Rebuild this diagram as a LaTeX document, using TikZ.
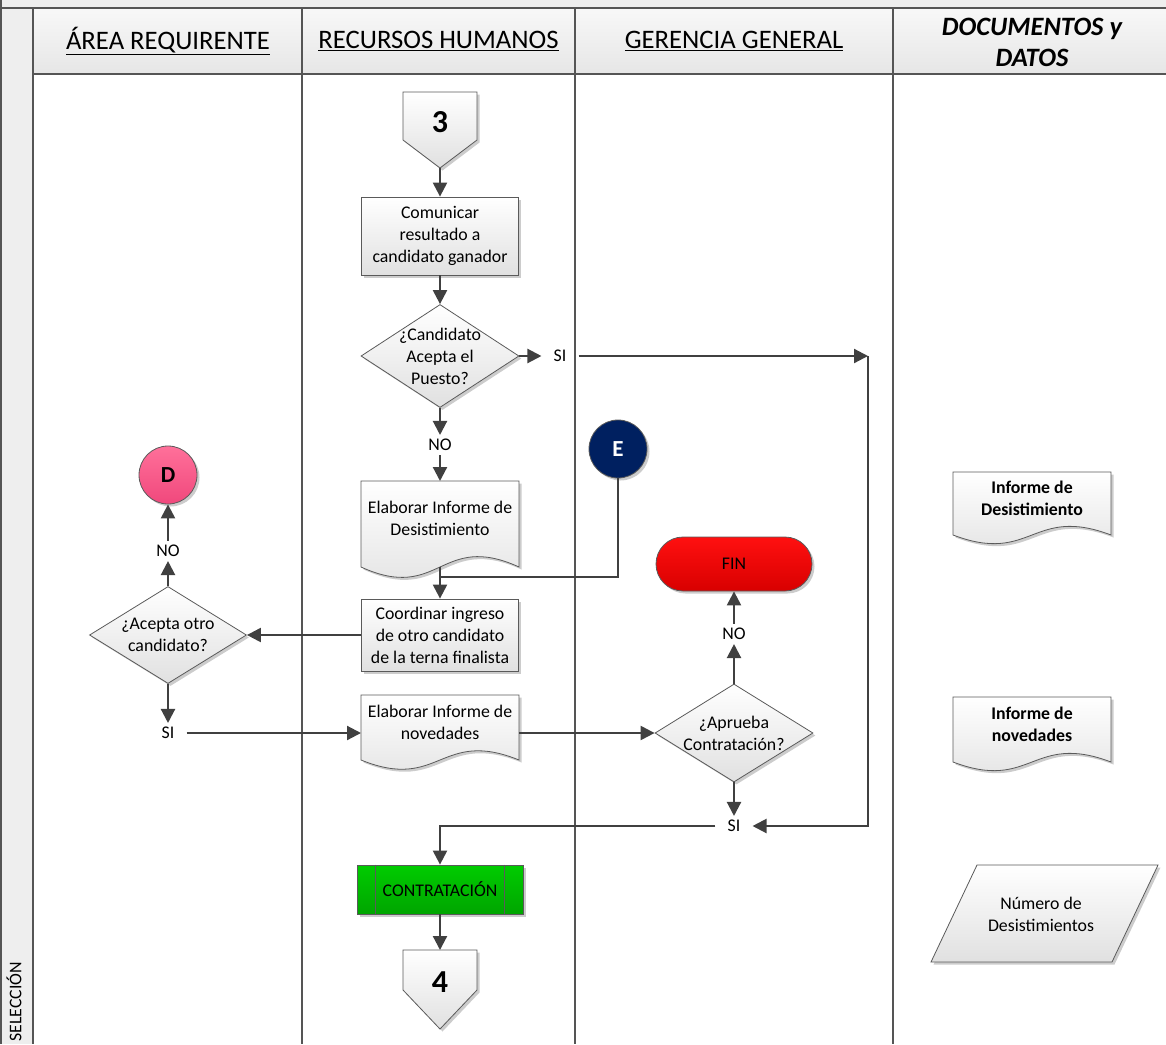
\documentclass[tikz,border=0pt]{standalone}
\usepackage{fontspec}
\setmainfont{Carlito}
\usetikzlibrary{arrows.meta,shapes.geometric,shadows,calc}

\definecolor{lnc}{HTML}{404040}
\definecolor{bdc}{HTML}{5A5A5A}
\definecolor{lanec}{HTML}{555555}
\definecolor{hdr}{HTML}{EEEEEE}
\definecolor{hdrtop}{HTML}{F8F8F8}
\definecolor{hdrbot}{HTML}{E6E6E6}
\definecolor{navy}{HTML}{002060}
\definecolor{pinktop}{HTML}{FF709A}
\definecolor{pinkbot}{HTML}{F0487C}
\definecolor{redtop}{HTML}{FF1010}
\definecolor{redbot}{HTML}{D80000}
\definecolor{grntop}{HTML}{00CC00}
\definecolor{grnbot}{HTML}{00A500}

\newcommand\bodyf{\fontsize{17.8}{22}\selectfont}
\newcommand\hdrf{\fontsize{26.7}{31}\selectfont}
\newcommand\numf{\fontsize{32}{36}\selectfont\bfseries}
\newcommand\letf{\fontsize{23}{27}\selectfont\bfseries}

% document symbol with a wavy bottom: x1, x2, top, side bottom, wave depth
\newcommand\docshape[5]{%
  \path[shp] (#1,#3) -- (#2,#3) -- (#2,#4)
    .. controls ({(#1+#2)/2},{#4-#5}) and ({(#1+#2)/2},{#4+#5}) .. (#1,#4) -- cycle;}

% off-page connector: centre x, top, shoulder, tip
\newcommand\offpage[4]{%
  \path[shp] ({#1-37},#2) -- ({#1+37},#2) -- ({#1+37},#3) -- (#1,#4) -- ({#1-37},#3) -- cycle;}

\begin{document}
\begin{tikzpicture}[x=1pt,y=-1pt,
  lane/.style={draw=lanec,line width=1.4pt},
  shp/.style={draw=bdc,line width=0.8pt,top color=white,bottom color=black!12,
    drop shadow={shadow xshift=2.5pt,shadow yshift=-2.5pt,opacity=.2,fill=black}},
  proc/.style={shp,rectangle,inner sep=0pt,align=center,font=\bodyf,minimum width=157pt},
  dec/.style={shp,diamond,inner sep=0pt},
  txt/.style={inner sep=0pt,align=center,font=\bodyf},
  lbl/.style={inner xsep=12pt,inner ysep=4pt,font=\bodyf},
  flow/.style={draw=lnc,line width=2.2pt,-{Triangle[length=14pt,width=14pt]}},
  plain/.style={draw=lnc,line width=2.2pt},
  hdrtxt/.style={font=\hdrf,inner sep=0pt,align=center}]

\useasboundingbox (0,0) rectangle (1166,1044);

% ---------- swimlane frame ----------
\fill[hdr] (0,0) rectangle (1166,8);
\fill[hdr] (0,8) rectangle (33,1044);
\shade[top color=hdrtop,bottom color=hdrbot] (33,8) rectangle (1166,74);
\draw[lane] (1,0) -- (1,1044);
\draw[lane] (0,8) -- (1166,8);
\draw[lane] (33,8) -- (33,1044);
\draw[lane] (33,74) -- (1166,74);
\draw[lane] (302,8) -- (302,1044);
\draw[lane] (575,8) -- (575,1044);
\draw[lane] (893,8) -- (893,1044);

\node[hdrtxt] (h1) at (168,41) {\underline{ÁREA REQUIRENTE}};
\node[hdrtxt] (h2) at (438.5,41) {\underline{RECURSOS HUMANOS}};
\node[hdrtxt] (h3) at (734,41) {\underline{GERENCIA GENERAL}};
\node[hdrtxt,font=\fontsize{26.5}{31}\selectfont\bfseries\itshape] (h4) at (1032,42) {DOCUMENTOS y\\DATOS};
\node[rotate=90,anchor=east,inner sep=0pt,font=\bodyf] (sel) at (14,962) {SELECCIÓN};

% ---------- shapes ----------
\offpage{440}{92}{140}{168}
\node[font=\numf,inner sep=0pt] (c3) at (440,122) {3};
\coordinate (c3tip) at (440,168);

\node[proc,minimum height=78pt] (com) at (440,236) {Comunicar\\resultado a\\candidato ganador};

\node[dec,minimum width=158pt,minimum height=103pt] (d1) at (440,356) {};
\node[txt] (d1t) at (440,356) {¿Candidato\\Acepta el\\Puesto?};

\docshape{361}{519}{481}{567}{36}
\node[txt] (ddoc) at (440,518) {Elaborar Informe de\\Desistimiento};
\coordinate (ddocb) at (440,567);
\coordinate (ddocn) at (440,481);

\node[circle,draw=bdc,line width=0.8pt,fill=navy,minimum size=58pt,inner sep=0pt,
  font=\letf,text=white,drop shadow={shadow xshift=2.5pt,shadow yshift=-2.5pt,opacity=.2,fill=black}]
  (cE) at (618,449) {E};
\coordinate (j1) at (440,577);

\node[proc,minimum height=72pt] (coord) at (440,635) {Coordinar ingreso\\de otro candidato\\de la terna finalista};

\node[dec,minimum width=157pt,minimum height=97pt] (d2) at (168,635) {};
\node[txt] (d2t) at (168,635) {¿Acepta otro\\candidato?};

\node[circle,draw=bdc,line width=0.8pt,top color=pinktop,bottom color=pinkbot,minimum size=58pt,inner sep=0pt,
  font=\letf,drop shadow={shadow xshift=2.5pt,shadow yshift=-2.5pt,opacity=.2,fill=black}]
  (cD) at (168,475) {D};

\docshape{361}{519}{695}{760}{32}
\node[txt] (ndoc) at (440,722) {Elaborar Informe de\\novedades};
\coordinate (ndocw) at (361,733);
\coordinate (ndoce) at (519,733);

\node[dec,minimum width=158pt,minimum height=98pt] (d3) at (734,733) {};
\node[txt] (d3t) at (734,733) {¿Aprueba\\Contratación?};

\node[shp,rectangle,rounded corners=27pt,minimum width=156pt,minimum height=54pt,inner sep=0pt,
  top color=redtop,bottom color=redbot,font=\bodyf] (fin) at (734,564) {FIN};

\node[shp,rectangle,minimum width=166pt,minimum height=49pt,inner sep=0pt,
  top color=grntop,bottom color=grnbot,font=\bodyf] (contr) at (440,889.5) {CONTRATACIÓN};
\draw[bdc,line width=0.8pt] ([xshift=19pt]contr.north west) -- ([xshift=19pt]contr.south west);
\draw[bdc,line width=0.8pt] ([xshift=-19pt]contr.north east) -- ([xshift=-19pt]contr.south east);

\offpage{440}{950}{990}{1029}
\node[font=\numf,inner sep=0pt] (c4) at (440,982) {4};
\coordinate (c4top) at (440,950);

% documents and data lane
\docshape{953}{1111}{472}{535}{30}
\node[txt,font=\bodyf\bfseries] (rdoc1) at (1032,498) {Informe de\\Desistimiento};
\docshape{953}{1111}{697}{762}{30}
\node[txt,font=\bodyf\bfseries] (rdoc2) at (1032,724) {Informe de\\novedades};
\path[shp] (977,865) -- (1158,865) -- (1112,962) -- (931,962) -- cycle;
\node[txt] (rdat) at (1041,914) {Número de\\Desistimientos};

% ---------- branch labels ----------
\node[lbl] (si1) at (560,356) {SI};
\node[lbl] (no1) at (440,445) {NO};
\node[lbl] (no2) at (168,551) {NO};
\node[lbl] (si2) at (168,733) {SI};
\node[lbl] (no3) at (734,634) {NO};
\node[lbl] (si3) at (734,826) {SI};
\coordinate (k1) at (868,356);

% ---------- connectors ----------
\draw[flow] (c3tip) -- (com.north);
\draw[flow] (com.south) -- (d1.north);
\draw[flow] (d1.east) -- (si1.west);
\draw[flow] (si1.east) -- (k1);
\draw[flow] (k1) |- (si3.east);
\draw[flow] (d1.south) -- (no1.north);
\draw[flow] (no1.south) -- (ddocn);
\draw[flow] (ddocb) -- (coord.north);
\draw[plain] (cE.south) |- (j1);
\draw[flow] (coord.west) -- (d2.east);
\draw[flow] (d2.north) -- (no2.south);
\draw[flow] (no2.north) -- (cD.south);
\draw[flow] (d2.south) -- (si2.north);
\draw[flow] (si2.east) -- (ndocw);
\draw[flow] (ndoce) -- (d3.west);
\draw[flow] (d3.north) -- (no3.south);
\draw[flow] (no3.north) -- (fin.south);
\draw[flow] (d3.south) -- (si3.north);
\draw[flow] (si3.west) -| (contr.north);
\draw[flow] (contr.south) -- (c4top);

\end{tikzpicture}
\end{document}
